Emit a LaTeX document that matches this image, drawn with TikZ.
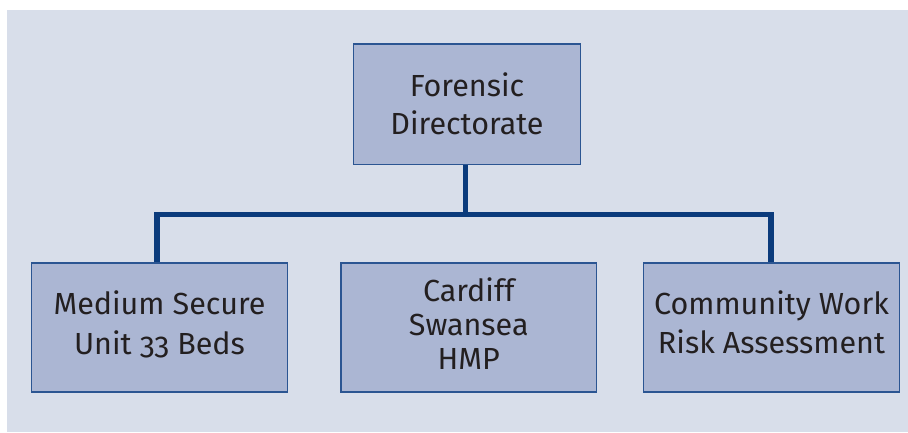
\documentclass[tikz,border=0pt]{standalone}
\usepackage{fontspec}
\setmainfont{Fira Sans}[Numbers=OldStyle]
\definecolor{panel}{HTML}{D8DEEA}
\definecolor{boxfill}{HTML}{ABB6D3}
\definecolor{boxedge}{HTML}{2B5592}
\definecolor{busline}{HTML}{0B3B7C}
\definecolor{ink}{HTML}{231F20}
\tikzset{
  unit/.style={draw=boxedge, line width=1.3pt, fill=boxfill, text=ink,
    inner sep=0pt, align=center, text depth=0pt},
  bus/.style={draw=busline, line width=5.5pt, line join=miter}
}
\begin{document}
\begin{tikzpicture}[x=1pt,y=-1pt]
  \useasboundingbox (0,0) rectangle (908,432);
  % panel behind the chart
  \fill[panel] (7,10) rectangle (908,432);

  % boxes
  \node[unit, minimum width=227pt, minimum height=120.5pt, text height=59.5pt,
        font=\fontsize{30.5}{38}\selectfont] (fd) at (467,104.25)
        {Forensic\\Directorate};
  \node[unit, minimum width=256pt, minimum height=129pt, text height=53pt,
        font=\fontsize{30.5}{40}\selectfont] (msu) at (159.5,327.5)
        {Medium Secure\\Unit 33 Beds};
  \node[unit, minimum width=255.5pt, minimum height=129pt, text height=83pt,
        font=\fontsize{30.5}{34}\selectfont] (csh) at (468.75,327.5)
        {Cardiff\\Swansea\\HMP};
  \node[unit, minimum width=256pt, minimum height=129pt, text height=51pt,
        font=\fontsize{30.5}{39}\selectfont] (crw) at (771.5,327.5)
        {Community Work\\Risk Assessment};

  % connector bus
  \coordinate (busM) at (465.3,214.5);
  \coordinate (busL) at (156.8,214.5);
  \coordinate (busR) at (771,214.5);
  \draw[bus] (fd.south -| busM) -- (busM);
  \draw[bus] (msu.north -| busL) |- (busR) -- (crw.north -| busR);
\end{tikzpicture}
\end{document}
